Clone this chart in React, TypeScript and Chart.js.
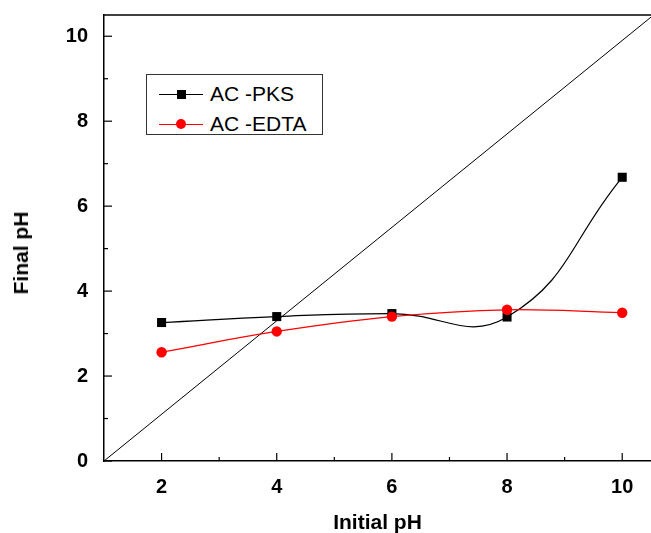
import React, { useEffect, useRef } from "react";
import { Chart, registerables } from "chart.js";

Chart.register(...registerables);

const initialPH = [2, 4, 6, 8, 10];
const finalPKS = [3.26, 3.4, 3.47, 3.39, 6.68];
const finalEDTA = [2.56, 3.05, 3.4, 3.56, 3.49];
const diagonalX = [1, 10.5];
const diagonalY = [0, 10.45];
const xTicks = [2, 4, 6, 8, 10];
const yTicks = [0, 2, 4, 6, 8, 10];
const xMinor = [3, 5, 7, 9];
const yMinor = [1, 3, 5, 7, 9];

const FONT = "'Liberation Sans', Arial, Helvetica, sans-serif";

const innerTicks = {
  id: "innerTicks",
  afterDatasetsDraw(chart: any) {
    const { ctx, chartArea } = chart;
    const xs = chart.scales.x;
    const ys = chart.scales.y;
    ctx.save();
    ctx.strokeStyle = "#000";
    ctx.lineWidth = 1.5;
    ctx.beginPath();
    ctx.moveTo(chartArea.left, chartArea.top);
    ctx.lineTo(chartArea.right, chartArea.top);
    ctx.stroke();
    ctx.lineWidth = 1.2;
    const drawX = (v: number, len: number) => {
      const px = xs.getPixelForValue(v);
      ctx.beginPath();
      ctx.moveTo(px, chartArea.bottom);
      ctx.lineTo(px, chartArea.bottom - len);
      ctx.stroke();
    };
    const drawY = (v: number, len: number) => {
      const py = ys.getPixelForValue(v);
      ctx.beginPath();
      ctx.moveTo(chartArea.left, py);
      ctx.lineTo(chartArea.left + len, py);
      ctx.stroke();
    };
    xTicks.forEach((v) => drawX(v, 8));
    xMinor.forEach((v) => drawX(v, 4));
    yTicks.forEach((v) => drawY(v, 8));
    yMinor.forEach((v) => drawY(v, 4));
    ctx.restore();
  },
};

function LegendRow({ color, square, label }: { color: string; square: boolean; label: string }) {
  return (
    <div style={{ display: "flex", alignItems: "center", height: 30 }}>
      <div style={{ position: "relative", width: 44, height: 12, marginLeft: 12 }}>
        <div style={{ position: "absolute", left: 0, right: 0, top: 5.5, height: 1, background: color }} />
        <div
          style={{
            position: "absolute",
            left: square ? 17.5 : 17,
            top: square ? 1.5 : 1,
            width: square ? 9 : 10,
            height: square ? 9 : 10,
            borderRadius: square ? 0 : "50%",
            background: color,
          }}
        />
      </div>
      <span style={{ marginLeft: 7, fontFamily: FONT, fontSize: 21, color: "#000", lineHeight: "24px" }}>{label}</span>
    </div>
  );
}

export default function App() {
  const ref = useRef<HTMLCanvasElement | null>(null);
  useEffect(() => {
    if (!ref.current) return;
    const chart = new Chart(ref.current, {
      type: "line",
      data: {
        datasets: [
          {
            label: "diagonal",
            data: diagonalX.map((x, i) => ({ x, y: diagonalY[i] })),
            borderColor: "#000",
            borderWidth: 1,
            pointRadius: 0,
            tension: 0,
            order: 3,
          },
          {
            label: "AC -PKS",
            data: initialPH.map((x, i) => ({ x, y: finalPKS[i] })),
            borderColor: "#000",
            backgroundColor: "#000",
            borderWidth: 1.2,
            pointStyle: "rect",
            pointRadius: 6.4,
            pointBorderWidth: 0,
            tension: 0.45,
            order: 2,
          },
          {
            label: "AC -EDTA",
            data: initialPH.map((x, i) => ({ x, y: finalEDTA[i] })),
            borderColor: "#ff0000",
            backgroundColor: "#ff0000",
            borderWidth: 1.2,
            pointStyle: "circle",
            pointRadius: 5.2,
            pointBorderWidth: 0,
            tension: 0.4,
            order: 1,
          },
        ],
      },
      options: {
        animation: false,
        responsive: false,
        maintainAspectRatio: false,
        layout: { autoPadding: false, padding: { top: 15, right: 0, left: 0, bottom: 0 } },
        plugins: { legend: { display: false }, tooltip: { enabled: false } },
        scales: {
          x: {
            type: "linear",
            min: 1,
            max: 10.5,
            afterBuildTicks: (s: any) => {
              s.ticks = xTicks.map((v) => ({ value: v }));
            },
            afterFit: (s: any) => {
              s.height = 72;
              s.paddingLeft = 0;
              s.paddingRight = 0;
            },
            grid: { display: false, drawTicks: false },
            border: { display: true, color: "#000", width: 1.5 },
            ticks: {
              padding: 14,
              color: "#000",
              font: { family: FONT, size: 20, weight: "bold" },
              maxRotation: 0,
            },
            title: {
              display: true,
              text: "Initial pH",
              color: "#000",
              font: { family: FONT, size: 21, weight: "bold" },
              padding: { top: 0, bottom: -3 },
            },
          },
          y: {
            type: "linear",
            min: 0,
            max: 10.5,
            afterBuildTicks: (s: any) => {
              s.ticks = yTicks.map((v) => ({ value: v }));
            },
            afterFit: (s: any) => {
              s.width = 104;
              s.paddingTop = 0;
              s.paddingBottom = 0;
            },
            grid: { display: false, drawTicks: false },
            border: { display: true, color: "#000", width: 1.5 },
            ticks: {
              padding: 16,
              color: "#000",
              font: { family: FONT, size: 20, weight: "bold" },
            },
          },
        },
      },
      plugins: [innerTicks],
    } as any);
    return () => chart.destroy();
  }, []);

  return (
    <div style={{ position: "absolute", left: 0, top: 0, width: 651, height: 533, background: "#fff", overflow: "hidden" }}>
      <canvas ref={ref} width={651} height={533} style={{ display: "block", width: 651, height: 533 }} />
      <div
        style={{
          position: "absolute",
          left: 21,
          top: 253,
          transform: "translate(-50%, -50%) rotate(-90deg)",
          fontFamily: FONT,
          fontSize: 21,
          fontWeight: "bold",
          whiteSpace: "nowrap",
          color: "#000",
        }}
      >
        Final pH
      </div>
      <div
        style={{
          position: "absolute",
          left: 146,
          top: 74,
          width: 177,
          height: 61,
          border: "1px solid #333",
          background: "#fff",
          paddingTop: 4,
          boxSizing: "border-box",
        }}
      >
        <LegendRow color="#000" square={true} label="AC -PKS" />
        <LegendRow color="#ff0000" square={false} label="AC -EDTA" />
      </div>
    </div>
  );
}
